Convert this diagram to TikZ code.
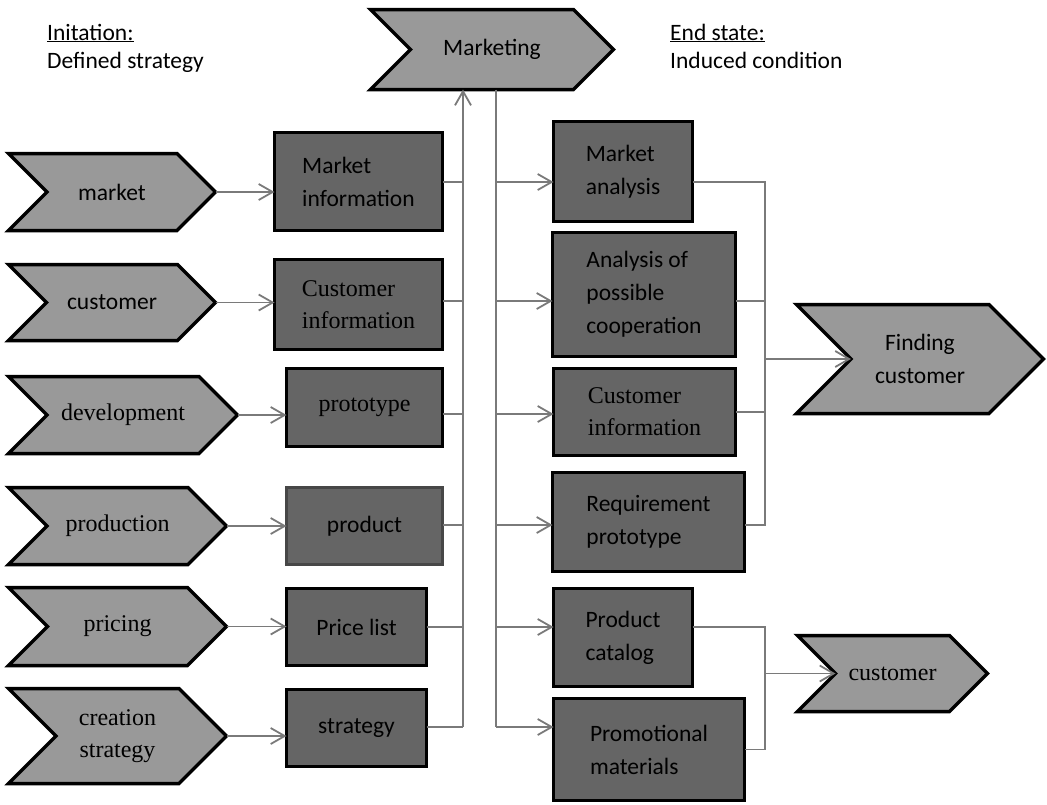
\documentclass[tikz,border=0pt]{standalone}
\usepackage{fontspec}
\setmainfont{Carlito}
\newfontfamily\tmsfont{Liberation Serif}
\usepackage{xcolor}
\usetikzlibrary{shapes.symbols, arrows.meta, positioning, calc}

\definecolor{chevgray}{HTML}{999999}
\definecolor{boxgray}{HTML}{656565}
\definecolor{linegray}{HTML}{7A7A7A}

\tikzset{
  chev/.style={signal, signal from=west, signal to=east, signal pointer angle=90,
    draw=black, line width=3.5pt, fill=chevgray, inner sep=0pt, outer sep=0pt, align=center},
  proc/.style={rectangle, draw=black, line width=3.5pt, fill=boxgray, inner sep=0pt, outer sep=0pt, align=left},
  serif/.style={font=\tmsfont\fontsize{24}{32}\selectfont},
  conn/.style={draw=linegray, line width=1.8pt},
  flow/.style={conn, -{Straight Barb[length=14pt,width=16pt]}}
}

\begin{document}
\begin{tikzpicture}[x=1pt, y=-1pt, font=\fontsize{23.5}{33}\selectfont, line join=miter]
\useasboundingbox (0,0) rectangle (1047,804);

% Headings
\node[anchor=base west, inner sep=0pt] (initlbl) at (47,40) {\underline{Initation:}};
\node[anchor=base west, inner sep=0pt] (initdesc) at (47,68) {Defined strategy};
\node[anchor=base west, inner sep=0pt] (endlbl) at (670,40) {\underline{End state:}};
\node[anchor=base west, inner sep=0pt] (enddesc) at (670,68) {Induced condition};

% Main process
\node[chev, minimum width=243pt, minimum height=80pt] (mkt) at (492,49.5) {Marketing};

% Inputs
\node[chev, minimum width=207pt, minimum height=77pt] (market) at (112,192) {market};
\node[chev, minimum width=207pt, minimum height=76pt] (customer) at (112,302.5) {customer};
\node[chev, serif, minimum width=229pt, minimum height=77pt] (develop) at (123,415) {development};
\node[chev, serif, minimum width=218pt, minimum height=77pt] (produce) at (117.5,526) {production};
\node[chev, serif, minimum width=218pt, minimum height=78pt] (pricing) at (117.5,626.5) {pricing};
\node[chev, serif, minimum width=218pt, minimum height=95pt] (creation) at (117.5,736) {creation\\strategy};

\node[proc, minimum width=168pt, minimum height=98pt] (mktinfo) at (358.5,181.5) {Market\\information};
\node[proc, serif, minimum width=168pt, minimum height=90pt] (custinfo) at (358.5,304.5) {Customer\\information};
\node[proc, serif, minimum width=156pt, minimum height=78pt] (proto) at (364.5,407.5) {prototype};
\node[proc, draw=black!72, line width=3pt, minimum width=156pt, minimum height=77pt] (product) at (364.5,526) {product};
\node[proc, minimum width=140pt, minimum height=77pt] (pricelist) at (356.5,627) {Price list};
\node[proc, minimum width=140pt, minimum height=77pt] (strategy) at (356.5,728) {strategy};

% Outputs
\node[proc, minimum width=139pt, minimum height=100pt] (mktanal) at (623,171.5) {Market\\analysis};
\node[proc, minimum width=183pt, minimum height=124pt] (coop) at (644,294.5) {Analysis of\\possible\\cooperation};
\node[proc, serif, minimum width=182pt, minimum height=87pt] (custinfo2) at (644.5,412) {Customer\\information};
\node[proc, minimum width=192pt, minimum height=99pt] (reqproto) at (648.5,522) {Requirement\\prototype};
\node[proc, minimum width=139pt, minimum height=98pt] (catalog) at (623,637.5) {Product\\catalog};
\node[proc, minimum width=191pt, minimum height=102pt] (promo) at (649,749.5) {Promotional\\materials};

% End states
\node[chev, minimum width=247pt, minimum height=109pt] (findcust) at (920,359) {Finding\\customer};
\node[chev, serif, minimum width=190pt, minimum height=76pt] (custout) at (892.5,673.5) {customer};

% Bus lines and levels
\coordinate (busL) at (463,0);
\coordinate (busR) at (496,0);
\coordinate (busE) at (765,0);
\coordinate (lvA) at (0,182);
\coordinate (lvB) at (0,301);
\coordinate (lvC) at (0,414);
\coordinate (lvD) at (0,525);
\coordinate (lvE) at (0,627);
\coordinate (lvF) at (0,727);

% Inputs into the first boxes
\foreach \c/\b in {market/mktinfo, customer/custinfo, develop/proto, produce/product, pricing/pricelist, creation/strategy}
  \draw[flow] (\c.east) -- (\b.west |- \c.east);

% Collected into marketing
\foreach \b/\l in {mktinfo/lvA, custinfo/lvB, proto/lvC, product/lvD, pricelist/lvE, strategy/lvF}
  \draw[conn] (\b.east |- \l) -- (busL |- \l);
\draw[flow] (busL |- lvF) -- (busL |- mkt.south);

% Marketing out to the results
\draw[conn] (busR |- mkt.south) -- (busR |- lvF);
\foreach \b/\l in {mktanal/lvA, coop/lvB, custinfo2/lvC, reqproto/lvD, catalog/lvE, promo/lvF}
  \draw[flow] (busR |- \l) -- (\b.west |- \l);

% Results to end states
\draw[conn] (mktanal.east |- lvA) -| (busE |- lvD) -- (reqproto.east |- lvD);
\draw[conn] (coop.east |- lvB) -- (busE |- lvB);
\draw[conn] (custinfo2.east) -- (busE |- custinfo2.east);
\draw[flow] (busE |- findcust.west) -- (findcust.west);

\draw[conn] (catalog.east |- lvE) -| (busE |- promo.east) -- (promo.east);
\draw[flow] (busE |- custout.west) -- (custout.west);
\end{tikzpicture}
\end{document}
